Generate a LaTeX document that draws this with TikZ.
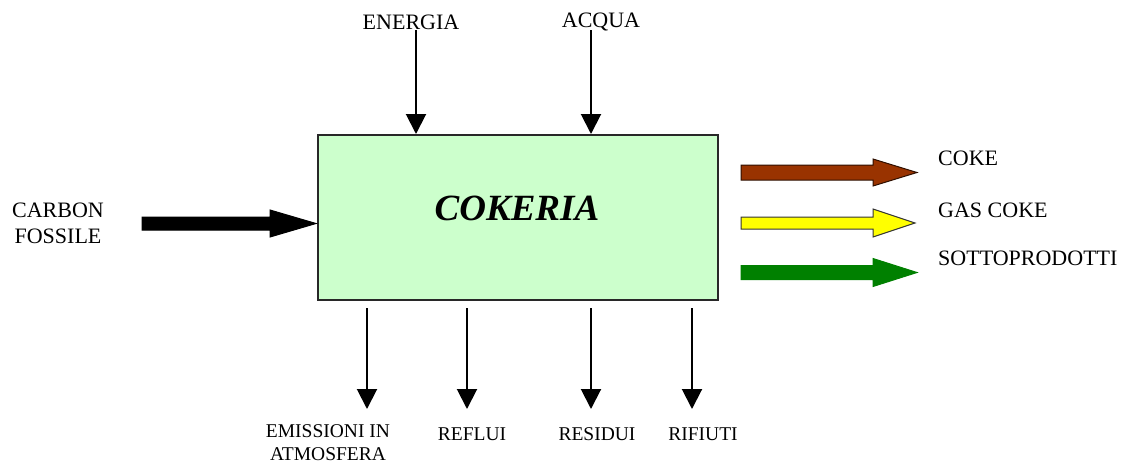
\documentclass[tikz,border=0pt]{standalone}
\usepackage{fontspec}
\setmainfont{Liberation Serif}
\usetikzlibrary{arrows.meta}
\definecolor{boxgreen}{RGB}{204,255,204}
\definecolor{cokebrown}{RGB}{153,51,0}
\definecolor{gasyellow}{RGB}{255,255,0}
\definecolor{prodgreen}{RGB}{0,128,0}
\definecolor{edgegray}{RGB}{40,40,40}
\tikzset{
  lbl/.style={font=\fontsize{22}{26}\selectfont, inner sep=0pt, align=center},
  smalllbl/.style={font=\fontsize{19.5}{23}\selectfont, inner sep=0pt, align=center},
  thinarrow/.style={line width=2pt, -{Triangle[length=20pt,width=20pt]}},
  blockedge/.style={line width=1pt, line join=miter}
}
\newcommand{\blockarrow}[7]{% #1 start x, #2 center y, #3 shaft half, #4 head base x, #5 head half, #6 tip x, #7 style
  \draw[#7] (#1,#2-#3) -- (#4,#2-#3) -- (#4,#2-#5) -- (#6,#2) -- (#4,#2+#5) -- (#4,#2+#3) -- (#1,#2+#3) -- cycle;}
\begin{document}
\begin{tikzpicture}[x=1pt,y=-1pt]
\useasboundingbox (0,0) rectangle (1125,464);
% main box
\node[draw=edgegray, line width=2pt, fill=boxgreen, minimum width=400pt, minimum height=165pt, anchor=north west, inner sep=0pt] (box) at (317,134) {};
\node[font=\fontsize{37}{42}\selectfont\bfseries\itshape, inner sep=0pt] (cokeria) at (517,208) {COKERIA};
% top inputs
\node[lbl] (energia) at (411,22) {ENERGIA};
\node[lbl] (acqua) at (601,22) {ACQUA};
\coordinate (e0) at (416,30);
\coordinate (a0) at (591,30);
\draw[thinarrow] (e0) -- (e0 |- box.north);
\draw[thinarrow] (a0) -- (a0 |- box.north);
% left input
\node[lbl] (carbon) at (58,223) {CARBON\\FOSSILE};
\blockarrow{142}{223.5}{6.5}{270}{13.5}{316}{fill=black, draw=black, blockedge}
% right outputs
\blockarrow{741}{172.5}{7.5}{873}{13.5}{917}{fill=cokebrown, draw=black!70!cokebrown, blockedge}
\blockarrow{741}{223}{6}{873}{14}{915}{fill=gasyellow, draw=black!80, blockedge}
\blockarrow{741}{272.5}{7}{873}{14}{917}{fill=prodgreen, draw=prodgreen, blockedge}
\node[lbl, anchor=west] (coke) at (938,158) {COKE};
\node[lbl, anchor=west] (gascoke) at (938,210) {GAS COKE};
\node[lbl, anchor=west] (sotto) at (938,258) {SOTTOPRODOTTI};
% bottom outputs
\node[smalllbl] (emiss) at (328,443) {EMISSIONI IN\\ATMOSFERA};
\node[smalllbl] (reflui) at (472,434) {REFLUI};
\node[smalllbl] (residui) at (597,434) {RESIDUI};
\node[smalllbl] (rifiuti) at (703,434) {RIFIUTI};
\coordinate (b1) at (367,308);
\coordinate (b2) at (467,308);
\coordinate (b3) at (591,308);
\coordinate (b4) at (692,308);
\draw[thinarrow] (b1) -- (367,409);
\draw[thinarrow] (b2) -- (467,409);
\draw[thinarrow] (b3) -- (591,409);
\draw[thinarrow] (b4) -- (692,409);
\end{tikzpicture}
\end{document}
